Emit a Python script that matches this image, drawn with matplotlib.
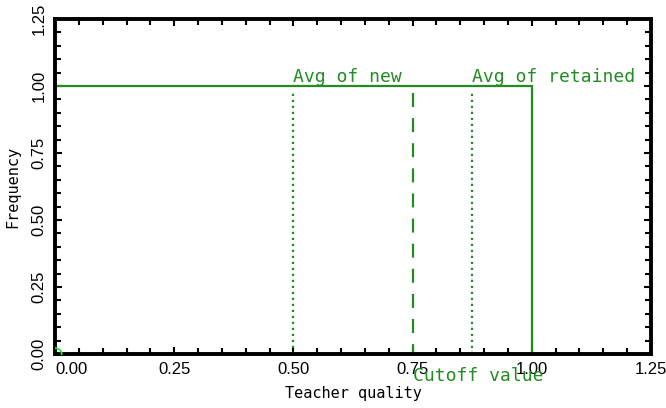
import matplotlib
matplotlib.use("Agg")
import matplotlib.pyplot as plt
from matplotlib.ticker import MultipleLocator

# distribution of teacher quality (uniform density)
quality = [0.0, 1.0, 1.0]
density = [1.0, 1.0, 0.0]

# reference lines
avg_new = 0.5
avg_retained = 0.875
cutoff = 0.75
ref_top = 1.0

xticks = [0.0, 0.25, 0.5, 0.75, 1.0, 1.25]
yticks = [0.0, 0.25, 0.5, 0.75, 1.0, 1.25]

green = "#228B22"
mono = "DejaVu Sans Mono"

fig = plt.figure(figsize=(6.66, 4.08), dpi=100)
ax = fig.add_axes([55 / 666, 1 - 354 / 408, 596 / 666, 335 / 408])

ax.plot(quality, density, color=green, lw=1.6, solid_joinstyle="miter")
ax.plot([avg_new, avg_new], [0, ref_top - 0.02], color=green, lw=1.6,
        linestyle=(0, (1, 1.7)))
ax.plot([avg_retained, avg_retained], [0, ref_top - 0.02], color=green, lw=1.6,
        linestyle=(0, (1, 1.7)))
ax.plot([cutoff, cutoff], [ref_top - 0.025, 0], color=green, lw=1.6,
        linestyle=(0, (6.3, 5)))
ax.plot([0], [0], "o", mfc="none", mec="#33dd33", ms=9, mew=1.3, zorder=3)

ax.text(avg_new, 1.015, "Avg of new", color=green, fontsize=13,
        family=mono, ha="left", va="baseline")
ax.text(avg_retained, 1.015, "Avg of retained", color=green, fontsize=13,
        family=mono, ha="left", va="baseline")
ax.text(cutoff, -0.082, "Cutoff value", color=green, fontsize=13,
        family=mono, ha="left", va="center", clip_on=False)

ax.set_xlim(0, 1.25)
ax.set_ylim(0, 1.25)
ax.set_xticks(xticks)
ax.set_yticks(yticks)
ax.set_xticklabels(["%.2f" % t for t in xticks], fontsize=12, family="Liberation Sans")
ax.set_yticklabels(["%.2f" % t for t in yticks], fontsize=12, family="Liberation Sans",
                   rotation=90, va="center")
ax.get_xticklabels()[0].set_ha("left")
ax.xaxis.set_minor_locator(MultipleLocator(0.05))
ax.yaxis.set_minor_locator(MultipleLocator(0.05))
ax.tick_params(which="both", direction="in", top=True, right=True, width=1.5)
ax.tick_params(which="major", length=5, pad=6)
ax.tick_params(which="minor", length=4)

for s in ax.spines.values():
    s.set_linewidth(2.8)

ax.set_xlabel("Teacher quality", fontsize=11, family=mono, labelpad=6)
ax.set_ylabel("Frequency", fontsize=11, family=mono, labelpad=8)

fig.savefig("out.png", dpi=100)
